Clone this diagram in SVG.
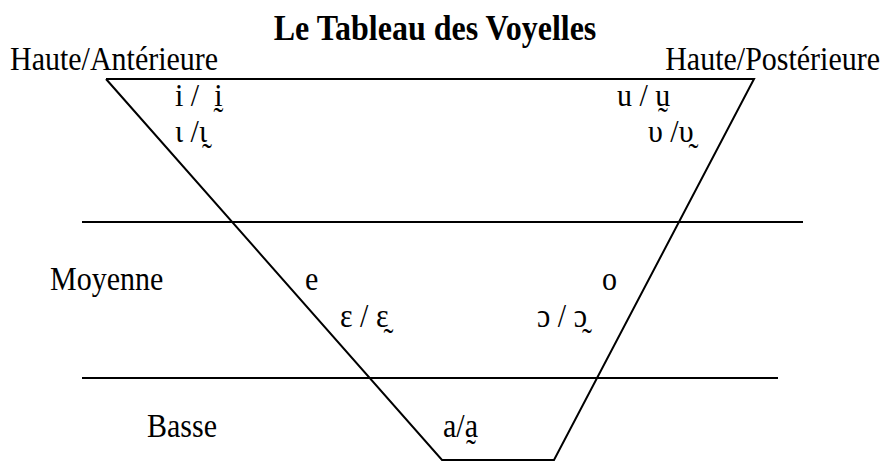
<svg xmlns="http://www.w3.org/2000/svg" width="887" height="462" viewBox="0 0 887 462">
<style>
  .t { font-family: "Liberation Serif", "DejaVu Serif", serif; font-size: 30px; fill: #000; }
  .title { font-family: "Liberation Serif", "DejaVu Serif", serif; font-size: 32px; font-weight: bold; fill: #000; }
  .ln { stroke: #000; stroke-width: 2; fill: none; }
</style>
<rect width="887" height="462" fill="#fff"/>
<g id="connectors">
  <polyline class="ln" points="106,79 754,79 554,460 442,460 106,79"/>
  <line class="ln" x1="82" y1="222" x2="803" y2="222"/>
  <line class="ln" x1="82" y1="378" x2="778" y2="378"/>
</g>
<g id="title"><text class="title" transform="translate(435,40) scale(1,1.1)" text-anchor="middle">Le Tableau des Voyelles</text></g>
<g id="haute-anterieure"><text class="t" transform="translate(10,70) scale(1,1.1)">Haute/Antérieure</text></g>
<g id="haute-posterieure"><text class="t" transform="translate(880,70) scale(1,1.1)" text-anchor="end">Haute/Postérieure</text></g>
<g id="i"><text class="t" transform="translate(175,106) scale(1,1.08)" xml:space="preserve">i /  ḭ</text></g>
<g id="iota"><text class="t" transform="translate(175,142) scale(1,1.08)">ι /ι̰</text></g>
<g id="u"><text class="t" transform="translate(617,106) scale(1,1.08)">u / ṵ</text></g>
<g id="upsilon"><text class="t" transform="translate(648,142) scale(1,1.08)">υ /υ̰</text></g>
<g id="moyenne"><text class="t" transform="translate(50,290) scale(1,1.1)">Moyenne</text></g>
<g id="e"><text class="t" transform="translate(305,290) scale(1,1.1)">e</text></g>
<g id="o"><text class="t" transform="translate(602,290) scale(1,1.1)">o</text></g>
<g id="epsilon"><text class="t" transform="translate(340,327) scale(1,1.1)">ɛ / ɛ̰</text></g>
<g id="open-o"><text class="t" transform="translate(537,327) scale(1,1.1)">ɔ / ɔ̰</text></g>
<g id="basse"><text class="t" transform="translate(147,437) scale(1,1.1)">Basse</text></g>
<g id="a"><text class="t" transform="translate(443,437) scale(1,1.1)">a/a̰</text></g>
</svg>
